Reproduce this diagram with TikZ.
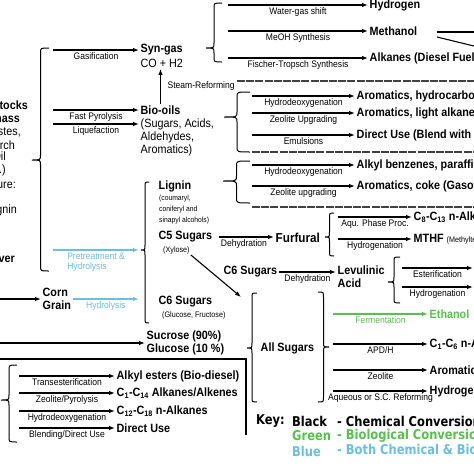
\documentclass[tikz,border=0pt]{standalone}
\usepackage{fontspec}
\setmainfont{Liberation Sans}[FakeStretch=0.9]
\newfontfamily\keyfont{DejaVu Sans}[FakeStretch=0.85]
\usepackage{tikz}
\usetikzlibrary{arrows.meta,positioning}
\definecolor{bioGreen}{RGB}{85,195,75}
\definecolor{bothBlue}{RGB}{105,190,225}
% curly bracket: tip x, back x, top y, tip y, bottom y
\newcommand{\curly}[5]{%
  \draw[brc] (#2,#3) .. controls ({(#1+#2)/2},#3) .. ({(#1+#2)/2},#3+5)
    -- ({(#1+#2)/2},#4-5) .. controls ({(#1+#2)/2},#4) .. (#1,#4)
    .. controls ({(#1+#2)/2},#4) .. ({(#1+#2)/2},#4+5)
    -- ({(#1+#2)/2},#5-5) .. controls ({(#1+#2)/2},#5) .. (#2,#5);}

\begin{document}
\begin{tikzpicture}[x=1pt, y=-1pt,
  prod/.style={anchor=west, inner sep=1.5pt, font=\fontsize{12}{13}\selectfont\bfseries},
  txt/.style={anchor=west, inner sep=1.5pt, font=\fontsize{12}{13}\selectfont},
  small/.style={anchor=west, inner sep=1pt, font=\fontsize{7.5}{8.5}\selectfont},
  feed/.style={anchor=east, inner sep=0pt, font=\fontsize{12}{13}\selectfont},
  feedb/.style={feed, font=\fontsize{12}{13}\selectfont\bfseries},
  lab/.style={below=1.5pt, inner sep=0.5pt, font=\fontsize{9.5}{10.5}\selectfont},
  arr/.style={-{Latex[length=6pt,width=4.5pt]}, line width=1.1pt},
  brc/.style={line width=1pt},
  sep/.style={line width=1.3pt, dash pattern=on 8pt off 1.2pt, black!75},
  keyt/.style={anchor=west, inner sep=0pt, font=\keyfont\fontsize{13.5}{14}\selectfont\bfseries}]
\useasboundingbox (0,0) rectangle (474,474);
\clip (0,0) rectangle (474,474);

% feedstocks (cut at the left edge)
\node[feedb] (fd1) at (28,105) {Feedstocks};
\node[feedb] (fd2) at (20,118) {Biomass};
\node[feed] (fd3) at (21,132) {(Wastes,};
\node[feed] (fd4) at (15,145) {Starch};
\node[feed] (fd5) at (6,157) {Vegetable Oil};
\node[feed] (fd6) at (6,170) {etc.)};
\node[feed] (fd7) at (16,184) {Structure:};
\node[feed] (fd8) at (17,210) {Lignin};
\node[feedb] (fd9) at (15,258) {Corn Stover};
\curly{32}{49}{48}{160}{271}
\coordinate (fs) at (53,0);

% syn-gas
\node[prod] (syn) at (139,50) {Syn-gas};
\node[txt] (co) at (139,63) {CO + H2};
\curly{206}{222}{3}{48}{62}
\coordinate (sg) at (228,0);
\node[prod] (hyd) at (368,5) {Hydrogen};
\node[prod] (meth) at (368,31) {Methanol};
\node[prod] (alk) at (368,58) {Alkanes (Diesel Fuel)};
\draw[arr] (fs |- syn.west) -- node[lab]{Gasification} (syn.west);
\draw[arr] (sg |- hyd.west) -- node[lab]{Water-gas shift} (hyd.west);
\draw[arr] (sg |- meth.west) -- node[lab]{MeOH Synthesis} (meth.west);
\draw[arr] (sg |- alk.west) -- node[lab]{Fischer-Tropsch Synthesis} (alk.west);
\coordinate (mo) at (437,32);
\draw[line width=1.1pt] (mo) -- ++(45,0);
\draw[line width=1.1pt] (mo) ++(0,5) -- ++(45,11);
\draw[sep] (237,81) -- (474,81);

% bio-oils
\node[prod] (bio) at (139,110) {Bio-oils};
\node[txt] (bio2) at (139,124) {(Sugars, Acids,};
\node[txt] (bio3) at (139,137) {Aldehydes,};
\node[txt] (bio4) at (139,150) {Aromatics)};
\draw[arr] (bio.north) -- node[lab, right=6pt]{Steam-Reforming} (bio.north |- co.south);
\draw[arr] (fs |- bio.west) -- node[lab]{Fast Pyrolysis} (bio.west);
\draw[arr] (fs |- bio2.west) -- node[lab]{Liquefaction} (bio2.west);
\curly{224}{250}{92}{117}{152}
\coordinate (bo) at (252,0);
\node[prod] (ar1) at (355,96) {Aromatics, hydrocarbons};
\node[prod] (ar2) at (355,113) {Aromatics, light alkanes};
\node[prod] (du) at (355,135) {Direct Use (Blend with Diesel)};
\draw[arr] (bo |- ar1.west) -- node[lab]{Hydrodeoxygenation} (ar1.west);
\draw[arr] (bo |- ar2.west) -- node[lab]{Zeolite Upgrading} (ar2.west);
\draw[arr] (bo |- du.west) -- node[lab]{Emulsions} (du.west);
\draw[sep] (252,152) -- (474,152);

% lignin
\node[prod] (lig) at (157,186) {Lignin};
\node[small] (lig2) at (158,199) {(coumaryl,};
\node[small] (lig3) at (158,210) {coniferyl and};
\node[small] (lig4) at (158,221) {sinapyl alcohols)};
\curly{223}{250}{161}{181}{203}
\coordinate (lg) at (252,0);
\node[prod] (ab) at (355,165) {Alkyl benzenes, paraffins};
\node[prod] (ac) at (355,186) {Aromatics, coke (Gasoline)};
\draw[arr] (lg |- ab.west) -- node[lab]{Hydrodeoxygenation} (ab.west);
\draw[arr] (lg |- ac.west) -- node[lab]{Zeolite upgrading} (ac.west);
\draw[sep] (252,207) -- (474,207);

% sugars
\curly{141}{149}{182}{250}{323}
\coordinate (ctip) at (139,250);
\draw[arr, bothBlue] (fs |- ctip) -- node[lab, align=left, text=bothBlue]{Pretreatment \&\\Hydrolysis} (ctip);
\node[prod] (c5) at (157,237) {C5 Sugars};
\node[small, font=\fontsize{8}{9}\selectfont] (xyl) at (162,250) {(Xylose)};
\node[prod] (c6) at (157,302) {C6 Sugars};
\node[small, font=\fontsize{8}{9}\selectfont] (glu) at (161,315) {(Glucose, Fructose)};
\node[prod, align=left] (sug) at (145,343) {Sucrose (90\%)\\Glucose (10 \%)};
\node[prod, align=left] (corn) at (41,299) {Corn\\Grain};
\coordinate (cg0) at (0,299);
\coordinate (hy) at (139,299);
\coordinate (sg0) at (0,343);
\draw[arr] (cg0) -- (corn.west);
\draw[arr, bothBlue] (corn.east) -- node[lab, text=bothBlue]{Hydrolysis} (hy);
\draw[arr] (sg0) -- (sug.west);

% furfural
\node[prod, font=\fontsize{13}{14}\selectfont\bfseries] (furf) at (274,238) {Furfural};
\draw[arr, shorten <=5pt] (c5.east) -- node[lab]{Dehydration} (c5.east -| furf.west);
\curly{325}{334}{213}{237}{256}
\coordinate (ff) at (338,0);
\node[prod] (cn) at (412,217) {C\textsubscript{8}-C\textsubscript{13} n-Alkanes};
\node[prod] (mthf) at (412,239) {MTHF {\fontsize{8}{9}\selectfont\mdseries (Methyltetrahydrofuran)}};
\draw[arr] (ff |- cn.west) -- node[lab]{Aqu. Phase Proc.} (cn.west);
\draw[arr] (ff |- mthf.west) -- node[lab]{Hydrogenation} (mthf.west);

% levulinic acid
\node[prod] (c6b) at (222,272) {C6 Sugars};
\node[prod] (lev) at (336,270) {Levulinic};
\node[prod] (acid) at (336,283) {Acid};
\draw[arr] (c6b.east) -- node[lab]{Dehydration} (c6b.east -| lev.west);
\curly{388}{400}{257}{282}{303}
\coordinate (lv) at (402,0);
\coordinate (lv1) at (473,268);
\coordinate (lv2) at (473,287);
\draw[arr] (lv |- lv1) -- node[lab]{Esterification} (lv1);
\draw[arr] (lv |- lv2) -- node[lab]{Hydrogenation} (lv2);

% all sugars
\coordinate (asb) at (241,297);
\draw[arr] (xyl.south east) -- (asb);
\curly{247}{257}{293}{348}{402}
\node[prod] (all) at (259,348) {All Sugars};
\curly{329}{318}{292}{347}{402}
\coordinate (as) at (333,0);
\node[prod, text=bioGreen] (eth) at (428,314) {Ethanol};
\node[prod] (c16) at (428,344) {C\textsubscript{1}-C\textsubscript{6} n-Alkanes};
\node[prod] (aro) at (428,370) {Aromatics};
\node[prod] (h2) at (428,391) {Hydrogen};
\draw[arr, bioGreen] (as |- eth.west) -- node[lab, text=bioGreen]{Fermentation} (eth.west);
\draw[arr] (as |- c16.west) -- node[lab]{APD/H} (c16.west);
\draw[arr] (as |- aro.west) -- node[lab]{Zeolite} (aro.west);
\draw[arr] (as |- h2.west) -- node[lab]{Aqueous or S.C. Reforming} (h2.west);

% oils box
\draw[line width=1.6pt] (0,359) -- (246,359) -- (246,435);
\curly{1}{17}{365}{400}{442}
\coordinate (bl) at (19,0);
\node[prod] (ae) at (115,376) {Alkyl esters (Bio-diesel)};
\node[prod] (c114) at (115,393) {C\textsubscript{1}-C\textsubscript{14} Alkanes/Alkenes};
\node[prod] (c1218) at (115,411) {C\textsubscript{12}-C\textsubscript{18} n-Alkanes};
\node[prod] (dub) at (115,428) {Direct Use};
\draw[arr] (bl |- ae.west) -- node[lab]{Transesterification} (ae.west);
\draw[arr] (bl |- c114.west) -- node[lab]{Zeolite/Pyrolysis} (c114.west);
\draw[arr] (bl |- c1218.west) -- node[lab]{Hydrodeoxygenation} (c1218.west);
\draw[arr] (bl |- dub.west) -- node[lab]{Blending/Direct Use} (dub.west);

% key
\node[keyt] (key) at (256,421) {Key:};
\node[keyt] (kb) at (292,421) {Black};
\node[keyt] (kbd) at (337,421) {- Chemical Conversions};
\node[keyt, text=bioGreen] (kg) at (292,436) {Green};
\node[keyt, text=bioGreen] (kgd) at (337,436) {- Biological Conversions};
\node[keyt, text=bothBlue] (kbl) at (292,451) {Blue};
\node[keyt, text=bothBlue] (kbld) at (337,451) {- Both Chemical \& Biological};
\end{tikzpicture}
\end{document}
